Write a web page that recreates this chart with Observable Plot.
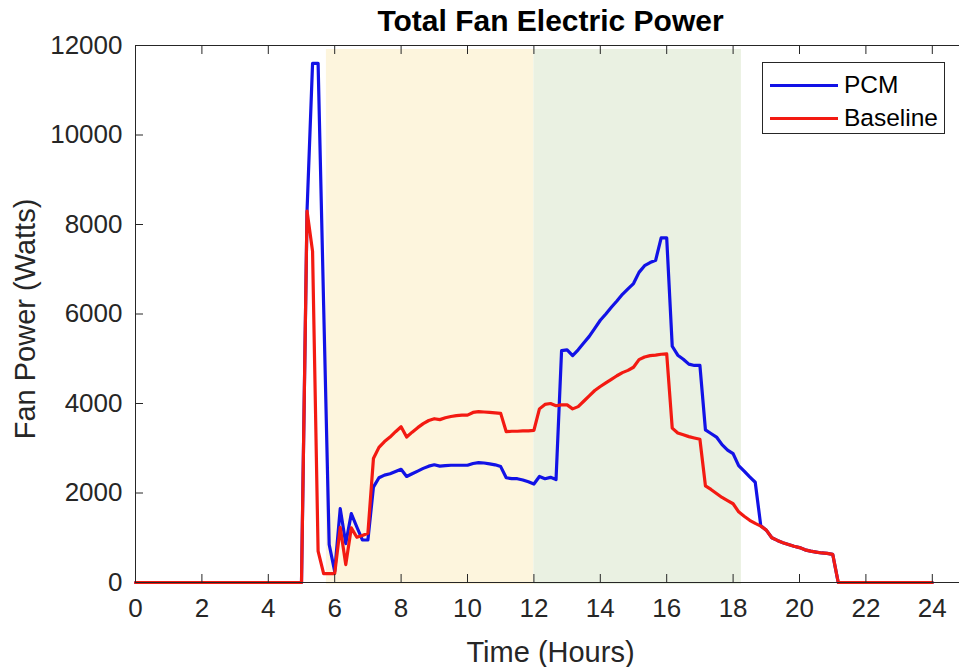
<!DOCTYPE html>
<html>
<head>
<meta charset="utf-8">
<script src="https://cdn.jsdelivr.net/npm/d3@7"></script>
<script src="https://cdn.jsdelivr.net/npm/@observablehq/plot@0.6"></script>
<style>
  body { margin: 0; background: #fff; }
  #chart { position: relative; width: 959px; height: 667px; overflow: hidden;
           font-family: "Liberation Sans", Arial, Helvetica, sans-serif; }
  .legend { position: absolute; left: 762px; top: 62px; width: 183px; height: 72px;
            border: 1px solid #262626; background: #fff; box-sizing: border-box; }
  .legend .row { position: absolute; left: 7px; height: 30px; display: flex; align-items: center; }
  .legend .swatch { width: 68px; height: 3px; margin-right: 6px; }
  .legend .lbl { font-size: 24.5px; color: #000; line-height: 1; }
</style>
</head>
<body>
<div id="chart"></div>
<script>
// Sample times in minutes after midnight (10-minute logging from 05:00 to 21:10)
const minutes = [0, ...d3.range(300, 1280, 10), 1440];

// Total fan electric power (W) for the PCM case
const pcmWatts = [
  0,
  0, 8300, 11600, 11600, 6200, 850, 250, 1650, 870, 1540,
  1240, 950, 950, 2130, 2340, 2400, 2430, 2480, 2530, 2370,
  2430, 2490, 2550, 2600, 2630, 2600, 2610, 2620, 2620, 2620,
  2620, 2660, 2680, 2670, 2650, 2630, 2590, 2340, 2320, 2320,
  2290, 2250, 2200, 2370, 2320, 2350, 2300, 5180, 5200, 5070,
  5200, 5350, 5500, 5680, 5860, 6000, 6150, 6290, 6440, 6560,
  6680, 6930, 7080, 7150, 7200, 7700, 7700, 5280, 5080, 4990,
  4880, 4850, 4850, 3410, 3330, 3250, 3080, 2960, 2880, 2610,
  2490, 2360, 2240, 1270, 1170, 1000, 940, 890, 850, 810,
  780, 730, 700, 680, 660, 650, 630, 0,
  0
];

// Total fan electric power (W) for the baseline case
const baselineWatts = [
  0,
  0, 8300, 7400, 700, 200, 200, 200, 1230, 400, 1220,
  1010, 1050, 1100, 2770, 3020, 3150, 3250, 3370, 3480, 3250,
  3360, 3460, 3550, 3620, 3660, 3640, 3680, 3710, 3730, 3740,
  3740, 3800, 3820, 3810, 3800, 3790, 3780, 3370, 3380, 3380,
  3390, 3390, 3400, 3880, 3980, 4000, 3950, 3970, 3970, 3880,
  3930, 4050, 4170, 4290, 4380, 4460, 4540, 4620, 4690, 4740,
  4810, 4980, 5040, 5070, 5080, 5100, 5110, 3450, 3340, 3300,
  3260, 3230, 3200, 2160, 2080, 1990, 1900, 1830, 1760, 1580,
  1480, 1390, 1320, 1260, 1170, 1000, 940, 890, 850, 810,
  780, 730, 700, 680, 660, 650, 630, 0,
  0
];

// Shaded operating periods (hours)
const periodStart = [5.75, 12];
const periodEnd = [12, 18.25];
const periodFill = ["#fdf5dd", "#eaf1e2"];

const xTicks = [0, 2, 4, 6, 8, 10, 12, 14, 16, 18, 20, 22, 24];
const yTicks = [0, 2000, 4000, 6000, 8000, 10000, 12000];

const seriesNames = ["PCM", "Baseline"];
const seriesColors = ["#1212e6", "#f31a12"];

const toRows = (vals) => minutes.map((m, i) => ({hour: m / 60, watts: vals[i]}));
const pcmRows = toRows(pcmWatts);
const baseRows = toRows(baselineWatts);
const periods = periodStart.map((s, i) => ({start: s, end: periodEnd[i], fill: periodFill[i]}));

const axisColor = "#262626";
const font = '"Liberation Sans", Arial, Helvetica, sans-serif';

const chart = Plot.plot({
  width: 959,
  height: 667,
  marginTop: 45,
  marginBottom: 85,
  marginLeft: 135,
  marginRight: -6,
  x: {domain: [0, 25]},
  y: {domain: [0, 12000]},
  style: {fontFamily: font, background: "#fff", color: axisColor},
  marks: [
    Plot.rect(periods, {x1: "start", x2: "end", fill: "fill", insetTop: 4, insetBottom: -2}),
    Plot.line(pcmRows, {x: "hour", y: "watts", stroke: seriesColors[0], strokeWidth: 3.2, strokeLinejoin: "round"}),
    Plot.line(baseRows, {x: "hour", y: "watts", stroke: seriesColors[1], strokeWidth: 3.2, strokeLinejoin: "round"}),
    Plot.ruleY([0, 12000], {stroke: axisColor, strokeWidth: 1}),
    Plot.ruleX([0], {stroke: axisColor, strokeWidth: 1}),
    Plot.axisX(xTicks, {anchor: "bottom", tickSize: -8, tickPadding: 24.5, fontSize: 26, stroke: axisColor, fill: axisColor, label: null}),
    Plot.axisX(xTicks, {anchor: "top", tickSize: -8, tickFormat: () => "", stroke: axisColor, label: null}),
    Plot.axisY(yTicks, {anchor: "left", tickSize: -8, tickPadding: 21, fontSize: 26, tickFormat: d3.format("d"), stroke: axisColor, fill: axisColor, label: null}),
    Plot.text(["Total Fan Electric Power"], {frameAnchor: "top", lineAnchor: "middle", dy: -24, fontSize: 30, fontWeight: "bold", fill: "#000"}),
    Plot.text(["Time (Hours)"], {frameAnchor: "bottom", lineAnchor: "middle", dy: 70, fontSize: 29, fill: axisColor}),
    Plot.text(["Fan Power (Watts)"], {frameAnchor: "left", textAnchor: "middle", lineAnchor: "middle", dx: -110, dy: 5, rotate: -90, fontSize: 29, fill: axisColor})
  ]
});

const root = document.getElementById("chart");
root.appendChild(chart);

// Legend box in the upper right of the axes
const legend = document.createElement("div");
legend.className = "legend";
seriesNames.forEach((name, i) => {
  const row = document.createElement("div");
  row.className = "row";
  row.style.top = (7 + i * 33) + "px";
  const sw = document.createElement("div");
  sw.className = "swatch";
  sw.style.background = seriesColors[i];
  const lbl = document.createElement("span");
  lbl.className = "lbl";
  lbl.textContent = name;
  row.appendChild(sw);
  row.appendChild(lbl);
  legend.appendChild(row);
});
root.appendChild(legend);
</script>
</body>
</html>
